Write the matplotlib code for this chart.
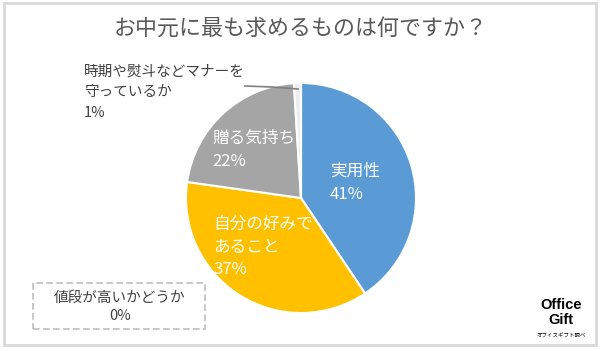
import matplotlib
matplotlib.use("Agg")
import matplotlib.pyplot as plt
from matplotlib.patches import Rectangle
from matplotlib.lines import Line2D

plt.rcParams['font.family'] = ['Noto Sans CJK JP', 'DejaVu Sans']

title = "お中元に最も求めるものは何ですか？"
categories = ["実用性", "自分の好みで\nあること", "贈る気持ち", "時期や熨斗などマナーを\n守っているか", "値段が高いかどうか"]
values = [41, 37, 22, 1, 0]
colors = ["#5B9BD5", "#FFC000", "#A5A5A5", "#EDEDED", "#4472C4"]

W, H = 602, 351
fig = plt.figure(figsize=(W / 100, H / 100), dpi=100)
fig.patch.set_facecolor("white")

def fx(x):
    return x / W

def fy(y):
    return 1 - y / H

# outer frame
fig.patches.append(Rectangle((fx(4), fy(345)), fx(592), 342 / H, transform=fig.transFigure,
                             fill=False, edgecolor="#D9D9D9", linewidth=2))

# pie axes: center (301,198) px, radius 115 px
cx, cy, r = 301, 198, 115
ax = fig.add_axes([fx(cx - r), fy(cy + r), 2 * r / W, 2 * r / H])
wedges, _ = ax.pie(values, colors=colors, startangle=90, counterclock=False,
                   wedgeprops=dict(edgecolor="white", linewidth=1.5))
ax.set_xlim(-1, 1)
ax.set_ylim(-1, 1)
ax.axis("off")

fig.text(0.5, fy(30), title, ha="center", va="center", fontsize=15.8, color="#595959")

inside = dict(color="white", fontsize=12, ha="left", va="top", linespacing=1.43)
fig.text(fx(330), fy(163), f"{categories[0]}\n{values[0]}%", **inside)
fig.text(fx(213), fy(216), f"{categories[1]}\n{values[1]}%", **inside)
fig.text(fx(212), fy(130), f"{categories[2]}\n{values[2]}%", **inside)

fig.text(fx(84), fy(65), f"{categories[3]}\n{values[3]}%", color="#404040", fontsize=10.5,
         ha="left", va="top", linespacing=1.58)
fig.lines.append(Line2D([fx(245), fx(272), fx(298)], [fy(86), fy(87), fy(89)],
                        transform=fig.transFigure, color="#808080", linewidth=1.2))

# dashed box for 0%
fig.patches.append(Rectangle((fx(33), fy(329)), fx(172), 46 / H, transform=fig.transFigure,
                             fill=False, edgecolor="#BFBFBF", linewidth=1.2, linestyle=(0, (4, 2))))
fig.text(fx(120), fy(307), f"{categories[4]}\n{values[4]}%", color="#404040", fontsize=10.5,
         ha="center", va="center", linespacing=1.45)

# logo
fig.text(fx(561), fy(305), "Office", family="Liberation Sans", fontweight="bold",
         fontsize=10.5, ha="center", va="center", color="black")
fig.text(fx(561), fy(320), "Gift", family="Liberation Sans", fontweight="bold",
         fontsize=10.5, ha="center", va="center", color="black")
fig.text(fx(561), fy(336), "オフィスギフト調べ", fontsize=4, ha="center", va="center", color="black")

fig.savefig("out.png", dpi=100, facecolor="white")
